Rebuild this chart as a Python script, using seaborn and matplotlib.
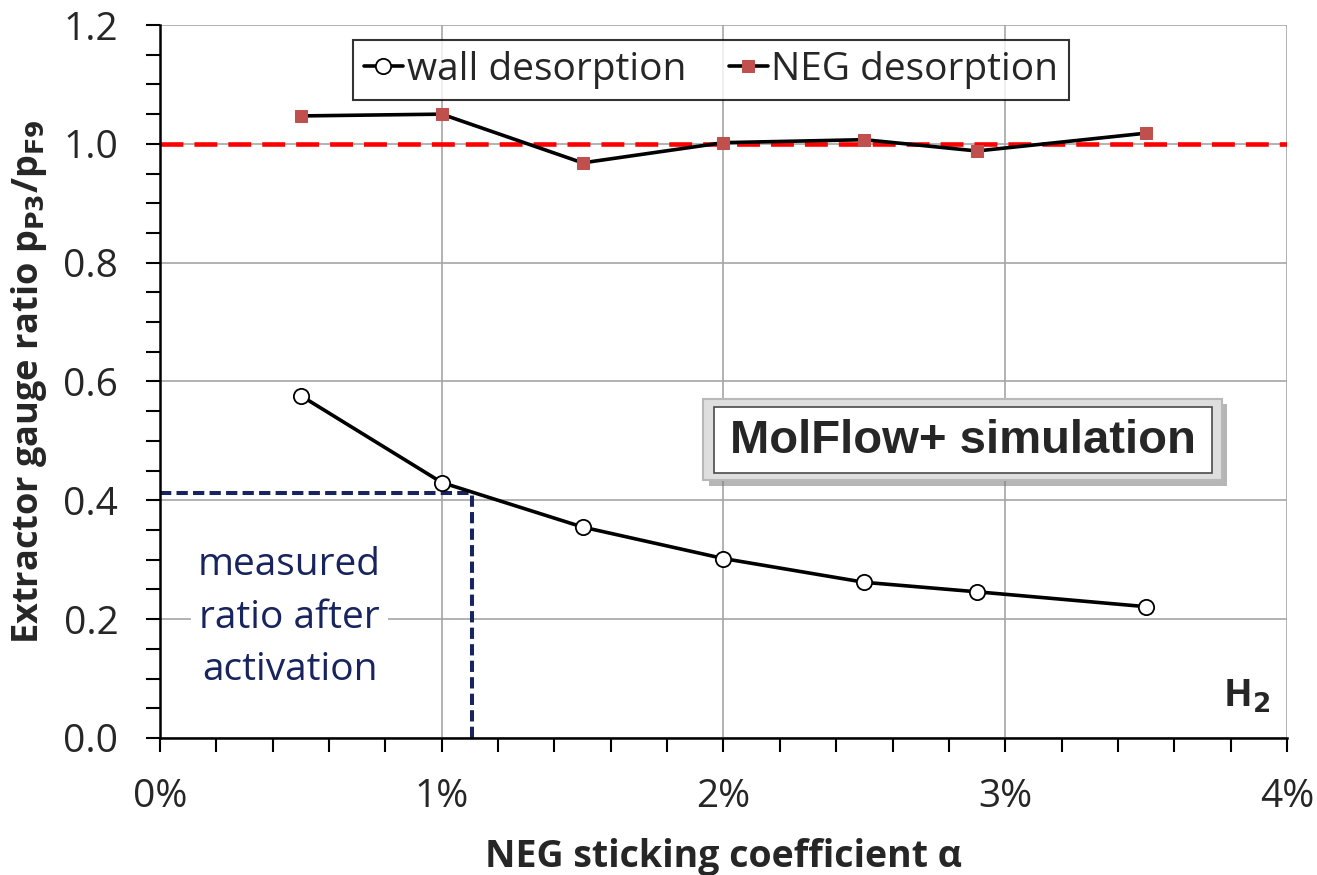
import numpy as np
import pandas as pd
import matplotlib
matplotlib.use("Agg")
from matplotlib import pyplot as plt
from matplotlib.patches import FancyBboxPatch
from matplotlib.ticker import MultipleLocator, FuncFormatter
import seaborn as sns

# NEG sticking coefficient in percent
alpha = [0.5, 1.0, 1.5, 2.0, 2.5, 2.9, 3.5]
# pressure ratio p_P3 / p_F9
wall_ratio = [0.576, 0.430, 0.355, 0.302, 0.262, 0.246, 0.221]
neg_ratio = [1.047, 1.050, 0.968, 1.002, 1.007, 0.988, 1.018]
measured_ratio = 0.412
measured_alpha = 1.108
reference_ratio = 1.0

df = pd.DataFrame({"alpha": alpha, "wall": wall_ratio, "neg": neg_ratio})

sns.set_theme(style="white")
plt.rcParams["font.family"] = ["Open Sans", "DejaVu Sans"]

navy = "#17245e"

fig = plt.figure(figsize=(13.17, 8.75), dpi=100)
ax = fig.add_axes([0.1215, 0.1566, 0.8557, 0.8148])

ax.grid(True, which="major", color="#a6a6a6", linewidth=1.2)
ax.set_axisbelow(True)

# reference line and measured ratio
ax.axhline(reference_ratio, color="#ff0000", linestyle=(0, (5, 2.4)), linewidth=3.3, zorder=2)
ax.plot([0, measured_alpha], [measured_ratio, measured_ratio], color=navy,
        linestyle=(0, (2.8, 1.3)), linewidth=2.9, zorder=2)
ax.plot([measured_alpha, measured_alpha], [0, measured_ratio], color=navy,
        linestyle=(0, (2.8, 1.3)), linewidth=2.9, zorder=2)

sns.lineplot(data=df, x="alpha", y="wall", ax=ax, color="black", linewidth=2.6,
             marker="o", markersize=11, markerfacecolor="white", markeredgecolor="black",
             markeredgewidth=1.3, label="wall desorption", zorder=4)
sns.lineplot(data=df, x="alpha", y="neg", ax=ax, color="black", linewidth=2.6,
             marker="s", markersize=9, markerfacecolor="#c0504d", markeredgecolor="#c0504d",
             label="NEG desorption", zorder=4)

ax.set_xlim(0, 4)
ax.set_ylim(0, 1.2)
ax.xaxis.set_major_locator(MultipleLocator(1))
ax.xaxis.set_minor_locator(MultipleLocator(0.2))
ax.yaxis.set_major_locator(MultipleLocator(0.2))
ax.yaxis.set_minor_locator(MultipleLocator(0.05))
ax.xaxis.set_major_formatter(FuncFormatter(lambda v, p: "%d%%" % round(v)))
ax.yaxis.set_major_formatter(FuncFormatter(lambda v, p: "%.1f" % v))
ax.tick_params(axis="both", which="both", direction="out", color="black", width=1.5,
               labelsize=28, bottom=True, left=True, length=10)
ax.tick_params(axis="y", which="major", pad=20)
ax.tick_params(axis="x", which="major", pad=19)

for s in ["top", "right"]:
    ax.spines[s].set_visible(False)
for s in ["left", "bottom"]:
    ax.spines[s].set_color("black")
    ax.spines[s].set_linewidth(1.8)

ax.set_xlabel("NEG sticking coefficient α", fontsize=27, fontweight="bold", labelpad=16)
ax.set_ylabel("Extractor gauge ratio p$_\\mathbf{P3}$/p$_\\mathbf{F9}$", fontsize=26,
              fontweight="bold", labelpad=10)

leg = ax.legend(loc="upper center", bbox_to_anchor=(0.489, 0.979), ncol=2, fontsize=28,
                frameon=True, fancybox=False, handlelength=1.0, handletextpad=0.1,
                columnspacing=1.1, borderpad=0.28, borderaxespad=0)
leg.get_frame().set_edgecolor("black")
leg.get_frame().set_linewidth(1.5)

ax.text(0.46, 0.202, "measured\nratio after\nactivation", transform=ax.transData,
        ha="center", va="center", fontsize=28, color=navy, linespacing=1.5,
        bbox=dict(facecolor="white", edgecolor="none", pad=5), zorder=3)

ax.text(0.985, 0.0575, "H$_\\mathbf{2}$", transform=ax.transAxes, ha="right", va="center",
        fontsize=27, fontweight="bold")

# MolFlow+ box with bevel and shadow
shadow = FancyBboxPatch((0.487, 0.354), 0.46, 0.114, boxstyle="square,pad=0",
                        transform=ax.transAxes, facecolor="#7a7a7a", edgecolor="none",
                        zorder=5, alpha=0.55)
outer = FancyBboxPatch((0.482, 0.362), 0.46, 0.114, boxstyle="square,pad=0",
                       transform=ax.transAxes, facecolor="#dedede", edgecolor="#b8b8b8",
                       linewidth=1.5, zorder=6)
inner = FancyBboxPatch((0.4916, 0.372), 0.442, 0.092, boxstyle="square,pad=0",
                       transform=ax.transAxes, facecolor="white", edgecolor="#4a4a4a",
                       linewidth=1.2, zorder=7)
ax.add_patch(shadow)
ax.add_patch(outer)
ax.add_patch(inner)
ax.text(0.7125, 0.417, "MolFlow+ simulation", transform=ax.transAxes, ha="center",
        va="center", fontsize=34, fontweight="bold", family=["Liberation Sans", "DejaVu Sans"],
        zorder=8)

fig.savefig("out.png", dpi=100)
